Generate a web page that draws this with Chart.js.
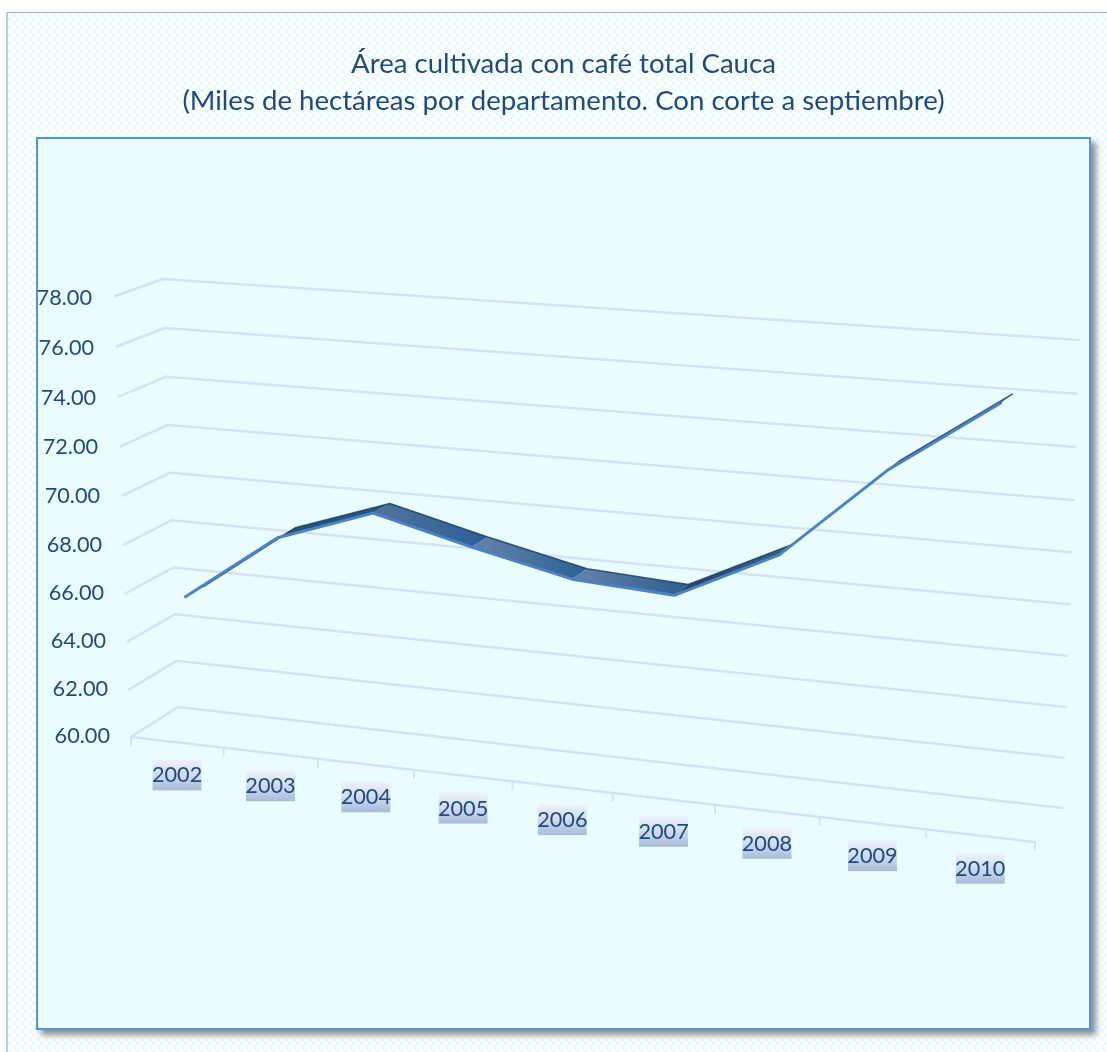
<!DOCTYPE html>
<html lang="es">
<head>
<meta charset="utf-8">
<title>Área cultivada con café total Cauca</title>
<style>
html,body{margin:0;padding:0;background:#fff;width:1107px;height:1052px;overflow:hidden}
#frame{position:absolute;left:6px;top:12px;width:1110px;height:1050px;box-sizing:border-box;
  border-left:2px solid #b7cfec;border-top:1px solid #8fb3e0;
  background:#fff repeating-conic-gradient(#e9fbfd 0 25%,#ffffff 0 50%) 0 0/8px 8px}
#panel{position:absolute;left:36px;top:137px;width:1055px;height:893px;box-sizing:border-box;
  background:#e9fdff;border:2px solid #5c90d6;box-shadow:5px 5px 6px #8a8f94}
canvas{position:absolute;left:0;top:0}
</style>
</head>
<body>
<div id="frame"></div>
<div id="panel"></div>
<canvas id="c" width="1107" height="1052"></canvas>
<script src="https://cdn.jsdelivr.net/npm/chart.js@4/dist/chart.umd.min.js"></script>
<script>
const titleLines = ['Área cultivada con café total Cauca','(Miles de hectáreas por departamento. Con corte a septiembre)'];
const categories = ['2002','2003','2004','2005','2006','2007','2008','2009','2010'];
const areaValues = [65.75,68.55,69.9,68.9,68.0,67.75,69.7,73.3,76.1];
const ribbonStart = ['#2d4f78','#24507a','#4e7099','#5f7fa6','#5f7fa6','#22476f','#2a5a90','#1d3f63'];
const ribbonEnd   = ['#2d5a88','#2a5a88','#2a6098','#2a6096','#2c5c90','#3b608a','#3a6a9a','#4a6f95'];
const valueMin = 60, valueMax = 78, valueStep = 2;

/* Perspective frame of the 3-D plot: screen corners of the front and back planes */
const frontPlane = [[131,737],[1035,842],[1051,361],[115,296]];
const backPlane  = [[178,707],[1062,808],[1079,340],[163,279]];
const ribbonFrontDepth = 0.28, ribbonBackDepth = 0.68;

function homography(q){
  const [[x0,y0],[x1,y1],[x2,y2],[x3,y3]] = q;
  const dx1=x1-x2,dx2=x3-x2,sx=x0-x1+x2-x3,dy1=y1-y2,dy2=y3-y2,sy=y0-y1+y2-y3;
  const den=dx1*dy2-dx2*dy1,g=(sx*dy2-dx2*sy)/den,h=(dx1*sy-sx*dy1)/den;
  const a=x1-x0+g*x1,b=x3-x0+h*x3,d=y1-y0+g*y1,e=y3-y0+h*y3;
  return (u,v)=>{const w=g*u+h*v+1;return [(a*u+b*v+x0)/w,(d*u+e*v+y0)/w];};
}
const front = homography(frontPlane), back = homography(backPlane);
function project(u,v,z){
  const f=front(u,v), b=back(u,v);
  return [f[0]+(b[0]-f[0])*z, f[1]+(b[1]-f[1])*z];
}
function uv(chart,px,py){
  const a=chart.chartArea;
  return [(px-a.left)/(a.right-a.left),(a.bottom-py)/(a.bottom-a.top)];
}

const perspective = {
  id:'perspective',
  afterDatasetsUpdate(chart){
    chart.data.datasets.forEach((ds,i)=>{
      chart.getDatasetMeta(i).data.forEach(el=>{
        const [u,v]=uv(chart,el.x,el.y);
        const [x,y]=project(u,v,ds.depth);
        el.x=x; el.y=y;
      });
    });
  },
  beforeDatasetsDraw(chart){
    const ctx=chart.ctx, xs=chart.scales.x, ys=chart.scales.y;
    const line=(p,q,color,w)=>{ctx.strokeStyle=color;ctx.lineWidth=w;ctx.beginPath();ctx.moveTo(p[0],p[1]);ctx.lineTo(q[0],q[1]);ctx.stroke();};
    const gridColor='#d5e2f4';
    ctx.save();
    ctx.lineCap='round';ctx.lineJoin='round';
    /* value gridlines along the side wall and the back wall */
    ctx.font='21.7px Lato';ctx.textAlign='right';ctx.textBaseline='middle';
    ys.ticks.forEach(t=>{
      const v=uv(chart,0,ys.getPixelForValue(t.value))[1];
      const a=front(0,v),b=back(0,v),c=back(1,v);
      line(a,b,gridColor,2.5);line(b,c,gridColor,2.5);
      ctx.fillStyle='#1f4a80';
      ctx.fillText(t.label,a[0]-21-2*v,a[1]-1+3*v);
    });
    /* category axis line, tick marks, and labels */
    line(front(0,0),front(1,0),gridColor,2.5);
    const count=categories.length;
    for(let i=0;i<=count;i++){
      const u=uv(chart,xs.getPixelForValue(i-0.5),0)[0];
      const p=front(u,0);
      line(p,[p[0],p[1]+8],gridColor,2);
    }
    ctx.textAlign='center';
    xs.ticks.forEach((t,i)=>{
      const u=uv(chart,xs.getPixelForTick(i),0)[0];
      const p=front(u,0);
      const cy=p[1]+33, cx=p[0];
      const g=ctx.createLinearGradient(0,cy-16,0,cy+15);
      g.addColorStop(0,'#eef3f9');g.addColorStop(.5,'#cfdcee');g.addColorStop(1,'#a6bcdb');
      ctx.fillStyle=g;ctx.fillRect(cx-24.5,cy-16,49,31);
      ctx.fillStyle='#1f4a80';
      ctx.fillText(t.label,cx,cy);
    });
    /* ribbon faces between the two edges of the series */
    const f=chart.getDatasetMeta(0).data,b=chart.getDatasetMeta(1).data;
    for(let i=0;i<f.length-1;i++){
      const g=ctx.createLinearGradient(f[i].x,0,f[i+1].x,0);
      g.addColorStop(0,ribbonStart[i]);g.addColorStop(1,ribbonEnd[i]);
      ctx.fillStyle=g;
      ctx.beginPath();
      ctx.moveTo(f[i].x,f[i].y);ctx.lineTo(f[i+1].x,f[i+1].y);
      ctx.lineTo(b[i+1].x,b[i+1].y);ctx.lineTo(b[i].x,b[i].y);
      ctx.closePath();ctx.fill();
    }
    ctx.restore();
  }
};

new Chart(document.getElementById('c'),{
  type:'line',
  data:{labels:categories,datasets:[
    {label:'Área cultivada (borde posterior)',data:areaValues,depth:ribbonBackDepth,borderColor:'rgba(30,62,100,0.85)',borderWidth:1.6,pointRadius:0,tension:0,fill:false,clip:false,borderCapStyle:'round',borderJoinStyle:'round',order:2},
    {label:'Área cultivada',data:areaValues,depth:ribbonFrontDepth,borderColor:'#4a82c4',borderWidth:3,pointRadius:0,tension:0,fill:false,clip:false,borderCapStyle:'round',borderJoinStyle:'round',order:1}
  ]},
  options:{
    responsive:false,animation:false,events:[],
    layout:{padding:{left:20,right:0,top:0,bottom:0}},
    plugins:{
      legend:{display:false},tooltip:{enabled:false},
      title:{display:true,text:titleLines,color:'#1f4a80',font:{family:'Lato',size:27.6,weight:'normal',lineHeight:1.34},padding:{top:46,bottom:0}}
    },
    scales:{
      x:{type:'category',display:false,offset:true},
      y:{type:'linear',display:false,min:valueMin,max:valueMax,ticks:{stepSize:valueStep,callback:v=>Number(v).toFixed(2)}}
    }
  },
  plugins:[perspective]
});
</script>
</body>
</html>
